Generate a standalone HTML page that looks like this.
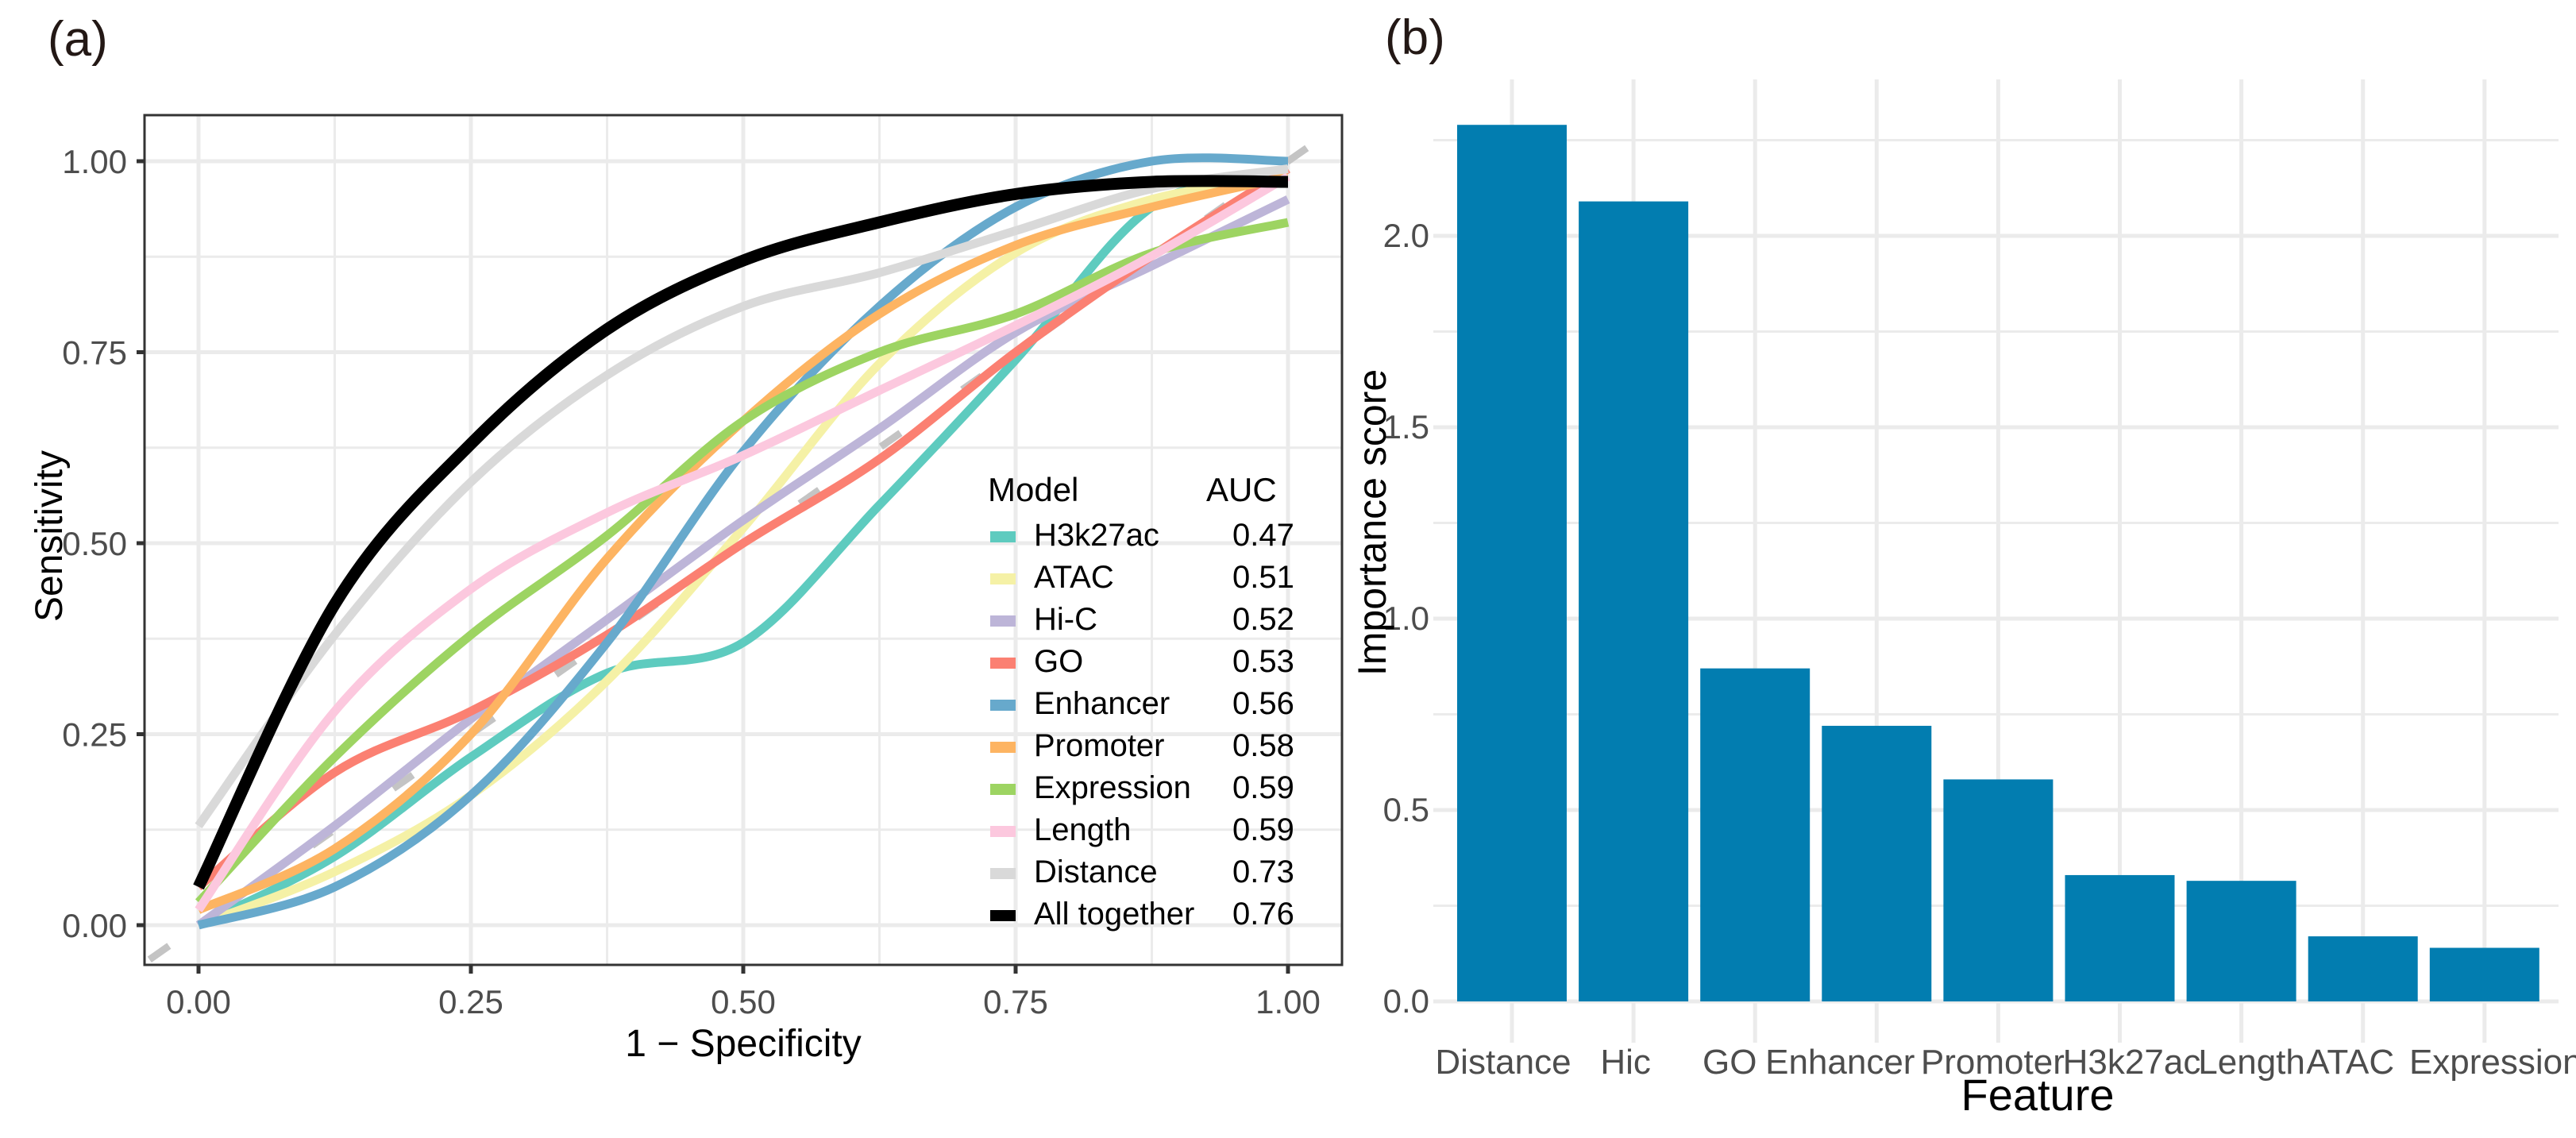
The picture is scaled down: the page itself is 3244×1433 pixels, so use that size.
<!DOCTYPE html>
<html><head><meta charset="utf-8"><style>
html,body{margin:0;padding:0;background:#fff;}
svg{display:block;font-family:"Liberation Sans",Arial,sans-serif;}
</style></head><body>
<svg id="chart" width="3244" height="1433" viewBox="0 0 3244 1433" xmlns="http://www.w3.org/2000/svg">
<rect width="3244" height="1433" fill="#fff"/>
<g id="pa"></g>
<g id="pb"></g>
</svg>
<script>
// ---- Panel (a) ROC data ----
const rocX = [0, 0.125, 0.25, 0.375, 0.5, 0.625, 0.75, 0.875, 1.0];
const models = ["H3k27ac","ATAC","Hi-C","GO","Enhancer","Promoter","Expression","Length","Distance","All together"];
const aucs = ["0.47","0.51","0.52","0.53","0.56","0.58","0.59","0.59","0.73","0.76"];
const colors = ["#5ecbbf","#f5f1a6","#bdb5d8","#fb8072","#67a9cc","#fdb462","#9dd462","#fcc8de","#d9d9d9","#000000"];
const yH3k27ac = [0.0, 0.09, 0.22, 0.33, 0.37, 0.55, 0.74, 0.94, 0.99];
const yATAC = [0.0, 0.07, 0.17, 0.32, 0.52, 0.735, 0.88, 0.95, 0.98];
const yHiC = [0.0, 0.13, 0.27, 0.40, 0.53, 0.65, 0.776, 0.863, 0.95];
const yGO = [0.05, 0.20, 0.28, 0.38, 0.50, 0.61, 0.75, 0.876, 0.99];
const yEnhancer = [0.0, 0.05, 0.17, 0.37, 0.62, 0.81, 0.94, 1.0, 1.0];
const yPromoter = [0.02, 0.10, 0.25, 0.48, 0.66, 0.80, 0.89, 0.94, 0.98];
const yExpression = [0.03, 0.22, 0.38, 0.51, 0.66, 0.75, 0.80, 0.88, 0.92];
const yLength = [0.02, 0.28, 0.44, 0.54, 0.615, 0.70, 0.785, 0.876, 0.98];
const yDistance = [0.13, 0.38, 0.58, 0.72, 0.81, 0.854, 0.909, 0.964, 0.99];
const yAll = [0.05, 0.42, 0.63, 0.78, 0.87, 0.92, 0.957, 0.973, 0.973];
const rocSeries = [yH3k27ac,yATAC,yHiC,yGO,yEnhancer,yPromoter,yExpression,yLength,yDistance,yAll];
const rocTicks = ["0.00","0.25","0.50","0.75","1.00"];
// ---- Panel (b) importance data ----
const features = ["Distance","Hic","GO","Enhancer","Promoter","H3k27ac","Length","ATAC","Expression"];
const importance = [2.29, 2.09, 0.87, 0.72, 0.58, 0.33, 0.315, 0.17, 0.14];
const impTicks = ["0.0","0.5","1.0","1.5","2.0"];

const NS="http://www.w3.org/2000/svg";
function mk(parent, tag, attrs, text){const e=document.createElementNS(NS,tag);for(const k in attrs)e.setAttribute(k,attrs[k]);if(text!==undefined)e.textContent=text;parent.appendChild(e);return e;}

const ax = v => 250 + v*1372;
const ay = v => 1165 - v*962;
const pa = document.getElementById('pa');
const L=182,R=1690,T=145,B=1215;
for(let i=0;i<=8;i++){const v=i/8;const w=(i%2===0)?5:3;
  let g=mk(pa,'line',{x1:ax(v),x2:ax(v),y1:T,y2:B,stroke:'#ebebeb','stroke-width':w});
  
  
  let h=mk(pa,'line',{x1:L,x2:R,y1:ay(v),y2:ay(v),stroke:'#ebebeb','stroke-width':w});
  
  
}
let diag=mk(pa,'line',{x1:ax(-0.045),y1:ay(-0.045),x2:ax(1.05),y2:ay(1.05),stroke:'#c4c4c4','stroke-width':9,'stroke-dasharray':'30 95'});


function smoothPath(xs, ys){
  const p=xs.map((x,i)=>[ax(x),ay(ys[i])]);
  let d=`M${p[0][0]},${p[0][1]}`;
  for(let i=0;i<p.length-1;i++){
    const p0=p[Math.max(0,i-1)],p1=p[i],p2=p[i+1],p3=p[Math.min(p.length-1,i+2)];
    const c1=[p1[0]+(p2[0]-p0[0])/6,p1[1]+(p2[1]-p0[1])/6];
    const c2=[p2[0]-(p3[0]-p1[0])/6,p2[1]-(p3[1]-p1[1])/6];
    d+=` C${c1[0]},${c1[1]} ${c2[0]},${c2[1]} ${p2[0]},${p2[1]}`;
  }
  return d;
}
rocSeries.forEach((ys,i)=>{
  const c=mk(pa,'path',{d:smoothPath(rocX,ys),fill:'none',stroke:colors[i],'stroke-width':i===9?15:11,'stroke-linecap':'butt','stroke-linejoin':'round'});
  
  
});
let bd=mk(pa,'rect',{x:L,y:T,width:R-L,height:B-T,fill:'none',stroke:'#333','stroke-width':3});


rocTicks.forEach((t,i)=>{const v=i/4;
  mk(pa,'line',{x1:ax(v),x2:ax(v),y1:B,y2:B+11,stroke:'#333','stroke-width':5});
  let tx=mk(pa,'text',{x:ax(v),y:1276,'font-size':42,fill:'#4d4d4d','text-anchor':'middle'},t);
  
  
  mk(pa,'line',{x1:L-10,x2:L,y1:ay(v),y2:ay(v),stroke:'#333','stroke-width':5});
  let ty=mk(pa,'text',{x:160,y:ay(v)+15,'font-size':42,fill:'#4d4d4d','text-anchor':'end'},t);
  
  
});
let xt=mk(pa,'text',{x:936,y:1330,'font-size':48,fill:'#000','text-anchor':'middle'},'1 − Specificity');


let yt=mk(pa,'text',{x:0,y:0,'font-size':48,fill:'#000','text-anchor':'middle',transform:'translate(78,675) rotate(-90)'},'Sensitivity');


let la=mk(pa,'text',{x:60,y:70,'font-size':62,fill:'#231815'},'(a)');


const lg=mk(pa,'g',{});


mk(lg,'text',{x:1244,y:631,'font-size':42,fill:'#000'},'Model');
mk(lg,'text',{x:1519,y:631,'font-size':42,fill:'#000'},'AUC');
models.forEach((m,i)=>{const y=687+i*53;
  const e=mk(lg,'g',{});
  
  
  mk(e,'rect',{x:1247,y:y-18,width:32,height:14,fill:colors[i]});
  mk(e,'text',{x:1302,y:y,'font-size':40,fill:'#000'},m);
  mk(e,'text',{x:1552,y:y,'font-size':40,fill:'#000'},aucs[i]);
});

// ---- Panel (b) ----
const pb=document.getElementById('pb');
const by=v=>1261 - v*482;
const bx=i=>1904 + i*153.1;
const labelShift=[-11,-10,-32,-46,-7,15,13,-16,14];
const BL=1805,BR=3222,BT=100,BB=1313;
for(let i=0;i<=9;i++){const v=i*0.25;if(by(v)<BT)break;
  const g=mk(pb,'line',{x1:BL,x2:BR,y1:by(v),y2:by(v),stroke:'#ebebeb','stroke-width':i%2===0?5:3});
  
  
}
features.forEach((f,i)=>{
  const g=mk(pb,'line',{x1:bx(i),x2:bx(i),y1:BT,y2:BB,stroke:'#ebebeb','stroke-width':5});
  
  
});
features.forEach((f,i)=>{
  const r=mk(pb,'rect',{x:bx(i)-69,y:by(importance[i]),width:138,height:by(0)-by(importance[i]),fill:'#027db0'});
  
  
  const t=mk(pb,'text',{x:bx(i)+labelShift[i],y:1352,'font-size':44,fill:'#4d4d4d','text-anchor':'middle'},f);
  
  
});
impTicks.forEach((t,i)=>{
  const e=mk(pb,'text',{x:1800,y:by(i*0.5)+14,'font-size':42,fill:'#4d4d4d','text-anchor':'end'},t);
  
  
});
let bxt=mk(pb,'text',{x:2566,y:1398,'font-size':56,fill:'#000','text-anchor':'middle'},'Feature');


let byt=mk(pb,'text',{x:0,y:0,'font-size':50,fill:'#000','text-anchor':'middle',transform:'translate(1745,658) rotate(-90)'},'Importance score');


let lb=mk(pb,'text',{x:1744,y:68,'font-size':62,fill:'#231815'},'(b)');


</script>
</body></html>
